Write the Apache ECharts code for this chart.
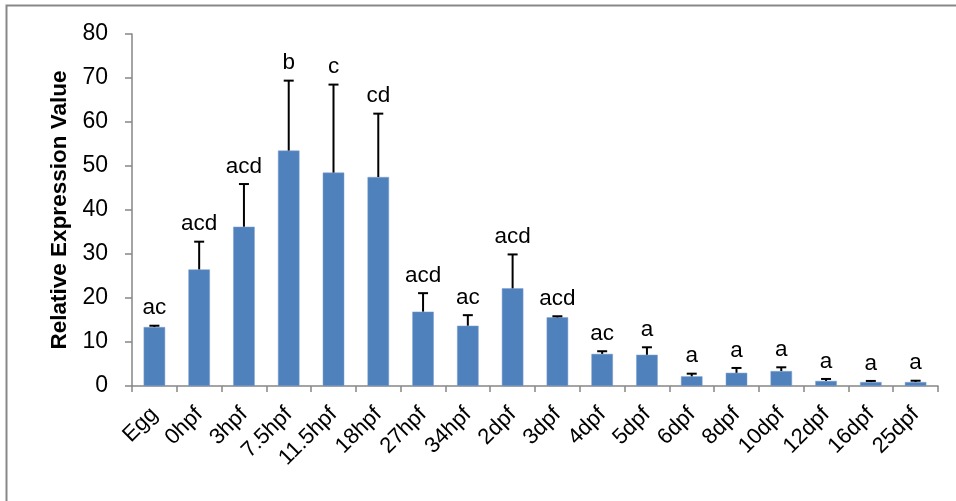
<!DOCTYPE html>
<html>
<head>
<meta charset="utf-8">
<script src="https://cdn.jsdelivr.net/npm/echarts@6/dist/echarts.min.js"></script>
<style>html,body{margin:0;padding:0;background:#fff}#c{width:956px;height:501px}</style>
</head>
<body>
<div id="c"></div>
<script>
var categories = ['Egg','0hpf','3hpf','7.5hpf','11.5hpf','18hpf','27hpf','34hpf','2dpf','3dpf','4dpf','5dpf','6dpf','8dpf','10dpf','12dpf','16dpf','25dpf'];
var values = [13.4, 26.5, 36.2, 53.5, 48.5, 47.5, 16.9, 13.7, 22.2, 15.6, 7.3, 7.1, 2.2, 3.0, 3.4, 1.15, 0.9, 0.9];
var errors = [0.3, 6.3, 9.7, 15.9, 20.0, 14.4, 4.2, 2.4, 7.7, 0.25, 0.6, 1.7, 0.6, 1.1, 0.85, 0.45, 0.25, 0.3];
var letters = ['ac','acd','acd','b','c','cd','acd','ac','acd','acd','ac','a','a','a','a','a','a','a'];
var yTicks = [0, 10, 20, 30, 40, 50, 60, 70, 80];

var FONT = 'Liberation Sans';
var chart = echarts.init(document.getElementById('c'));
var errData = values.map(function (v, i) { return [i, v, v + errors[i], letters[i]]; });

chart.setOption({
  animation: false,
  backgroundColor: '#fff',
  grid: { left: 132, right: 18, top: 34, bottom: 115 },
  graphic: [{
    type: 'rect', shape: { x: 6.5, y: 5.5, width: 1000, height: 600 },
    style: { fill: 'none', stroke: '#888', lineWidth: 2 }, silent: true, z: -10
  }],
  xAxis: {
    type: 'category', data: categories,
    axisLine: { lineStyle: { color: '#868686', width: 1.5 } },
    axisTick: { show: true, alignWithLabel: false, length: 6, lineStyle: { color: '#868686', width: 1.5 } },
    axisLabel: { rotate: 45, interval: 0, margin: 25, color: '#000', fontFamily: FONT, fontSize: 22 }
  },
  yAxis: {
    type: 'value', min: yTicks[0], max: yTicks[yTicks.length - 1], interval: 10,
    name: 'Relative Expression Value', nameLocation: 'middle', nameGap: 60, nameRotate: 90,
    nameTextStyle: { fontFamily: FONT, fontSize: 22.5, fontWeight: 'bold', color: '#000' },
    splitLine: { show: false },
    axisLine: { show: true, lineStyle: { color: '#868686', width: 1.5 } },
    axisTick: { show: true, length: 7, lineStyle: { color: '#868686', width: 1.5 } },
    axisLabel: { margin: 24, color: '#000', fontFamily: FONT, fontSize: 23 }
  },
  series: [{
    type: 'bar', data: values, barWidth: '48%',
    itemStyle: { color: '#4F81BD', borderColor: '#7f9fcf', borderWidth: 0.5 }
  }, {
    type: 'custom', data: errData, z: 5,
    renderItem: function (params, api) {
      var base = api.coord([api.value(0), api.value(1)]);
      var top = api.coord([api.value(0), api.value(2)]);
      var half = 5;
      return {
        type: 'group',
        children: [
          { type: 'line', shape: { x1: base[0], y1: base[1], x2: top[0], y2: top[1] }, style: { stroke: '#000', lineWidth: 2 } },
          { type: 'line', shape: { x1: top[0] - half, y1: top[1], x2: top[0] + half, y2: top[1] }, style: { stroke: '#000', lineWidth: 2 } },
          { type: 'text', x: top[0], y: top[1] - 6, style: { text: letters[params.dataIndex], fill: '#000', font: '22.5px "' + FONT + '"', textAlign: 'center', textVerticalAlign: 'bottom' } }
        ]
      };
    }
  }]
});
</script>
</body>
</html>
